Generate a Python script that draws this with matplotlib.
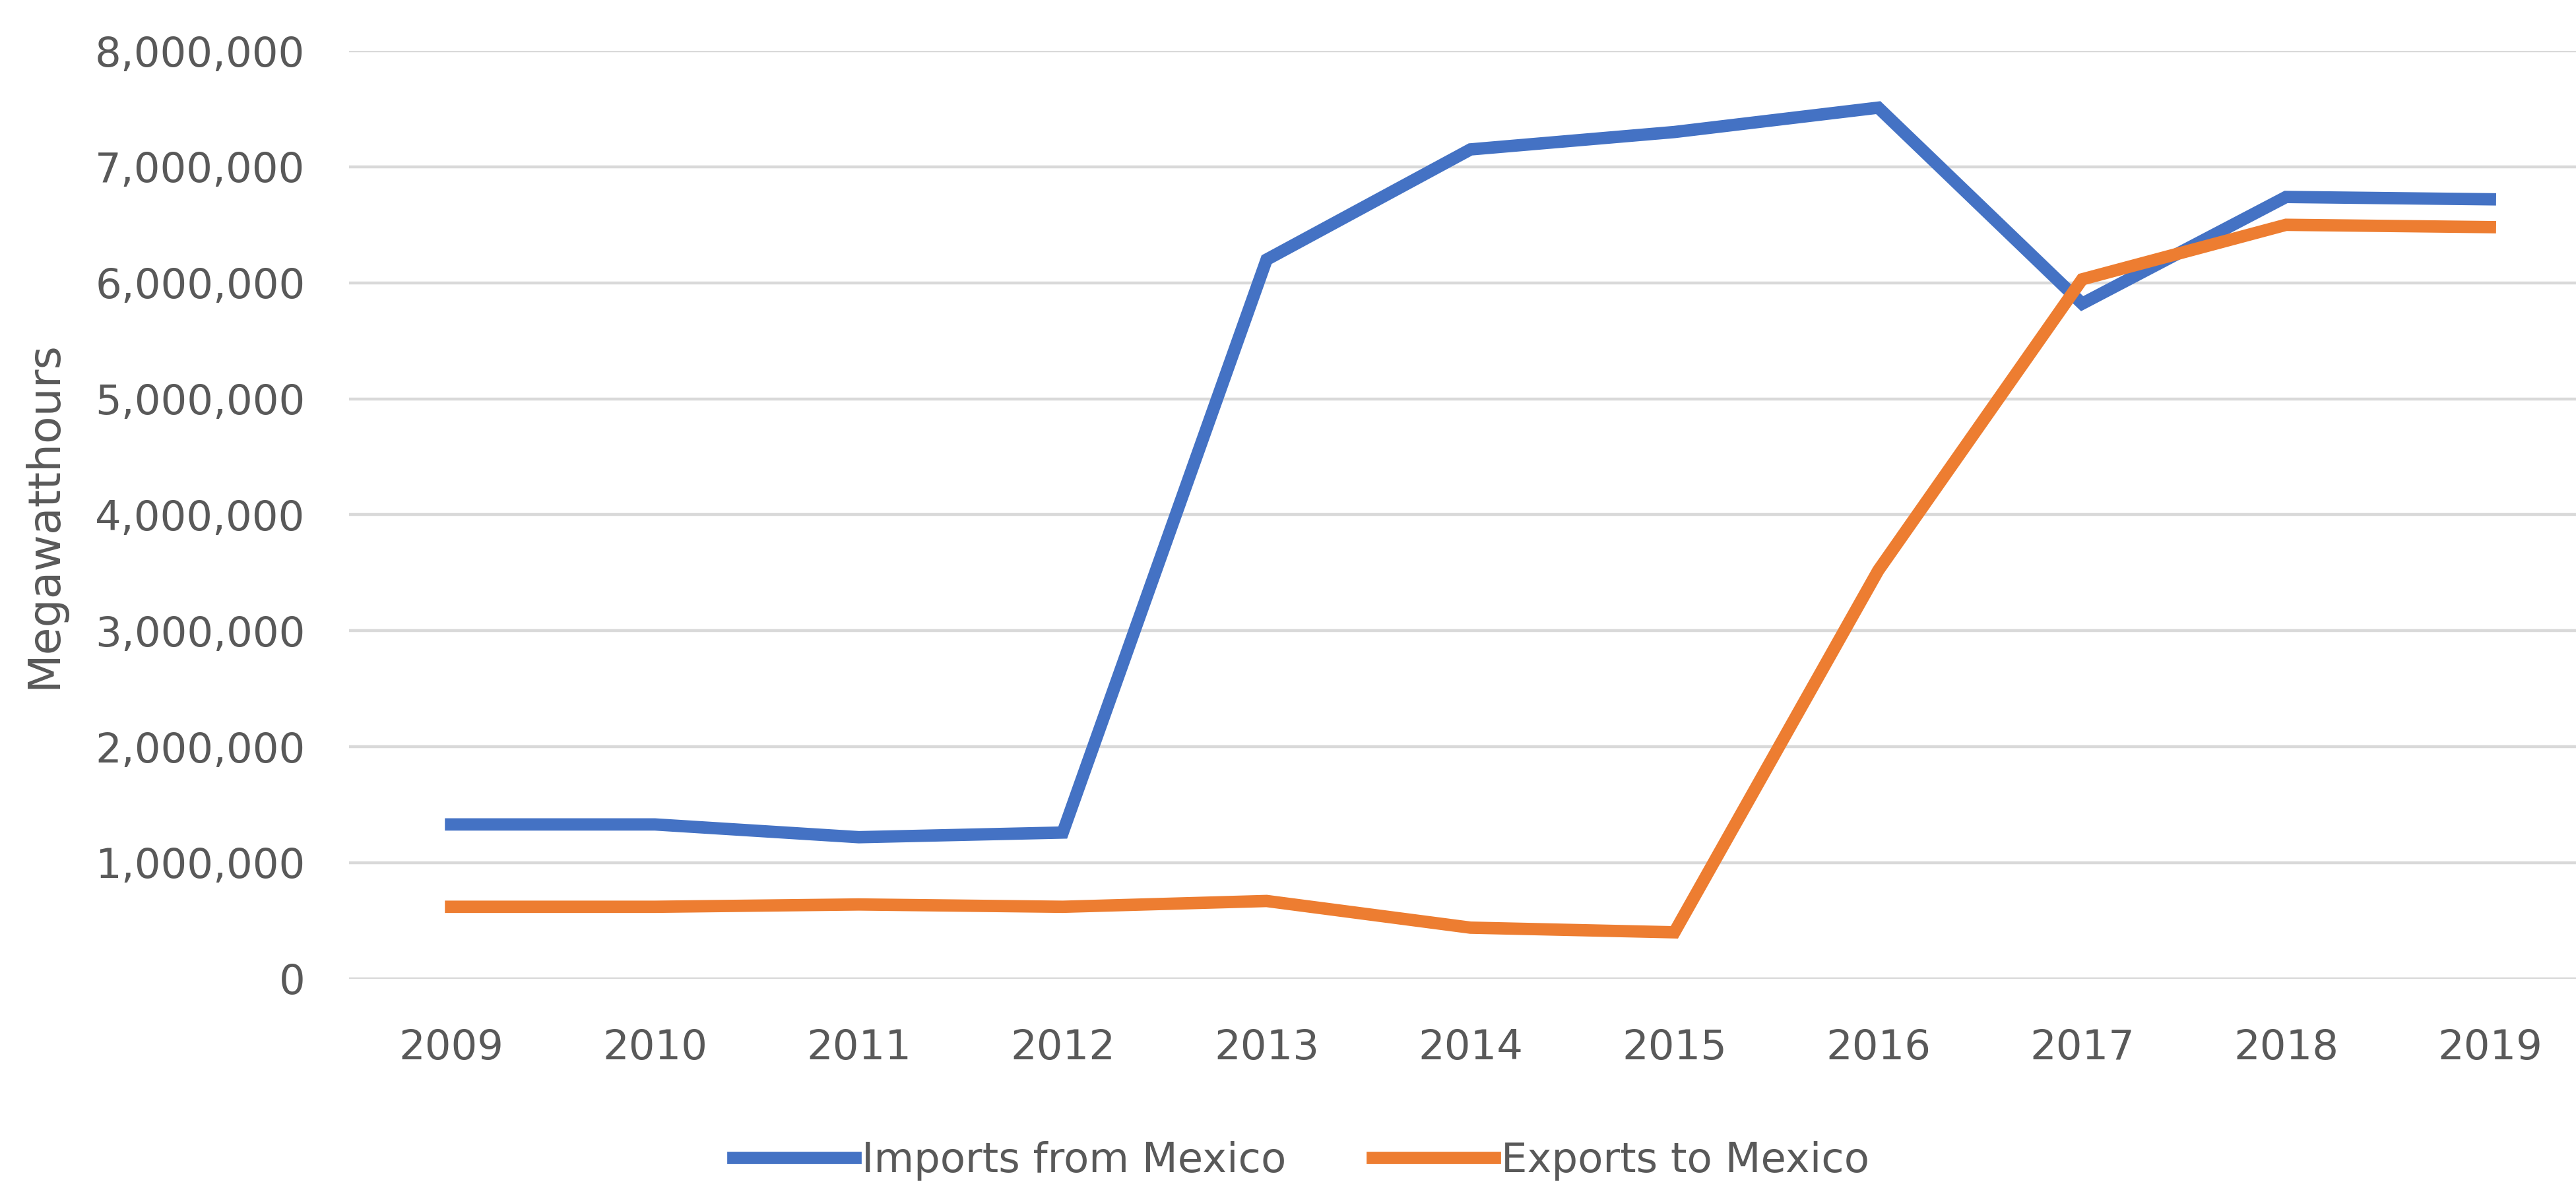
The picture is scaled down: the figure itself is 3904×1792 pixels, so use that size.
import matplotlib
matplotlib.use("Agg")
import matplotlib.pyplot as plt
from matplotlib.ticker import FuncFormatter, MultipleLocator

years = ["2009", "2010", "2011", "2012", "2013", "2014", "2015", "2016", "2017", "2018", "2019"]
imports_mwh = [1330000, 1330000, 1220000, 1260000, 6200000, 7150000, 7300000, 7510000, 5820000, 6740000, 6720000]
exports_mwh = [620000, 620000, 640000, 620000, 670000, 440000, 400000, 3520000, 6030000, 6500000, 6480000]

TEXT = "#595959"
plt.rcParams['font.family'] = ['DejaVu Sans']

fig = plt.figure(figsize=(39.05, 17.92), dpi=100)
ax = fig.add_axes([0.1355, 0.172, 0.8704, 0.785])

x = list(range(len(years)))
ax.plot(x, imports_mwh, color="#4472C4", lw=13.5, solid_joinstyle="miter", label="Imports from Mexico")
ax.plot(x, exports_mwh, color="#ED7D31", lw=13.5, solid_joinstyle="miter", label="Exports to Mexico")

ax.set_xlim(-0.5, len(years) - 0.5)
ax.set_ylim(0, 8000000)
ax.yaxis.set_major_locator(MultipleLocator(1000000))
ax.yaxis.set_major_formatter(FuncFormatter(lambda v, p: f"{int(v):,}"))
ax.set_xticks(x)
ax.set_xticklabels(years)
ax.grid(axis="y", color="#D9D9D9", lw=3.2)
ax.set_axisbelow(True)
for s in ax.spines.values():
    s.set_visible(False)
ax.tick_params(axis="both", length=0, labelsize=45, colors=TEXT)
ax.tick_params(axis="y", pad=48)
ax.tick_params(axis="x", pad=54)
ax.set_ylabel("Megawatthours", fontsize=49, color=TEXT)
ax.yaxis.set_label_coords(-0.1265, 0.5)

fig.legend(loc="center", bbox_to_anchor=(0.505, 0.018), ncol=2, frameon=False,
           fontsize=45, handlelength=2.96, handletextpad=0.15, columnspacing=2.1,
           labelcolor=TEXT, borderpad=0)

fig.savefig("out.png", dpi=100, facecolor="white")
